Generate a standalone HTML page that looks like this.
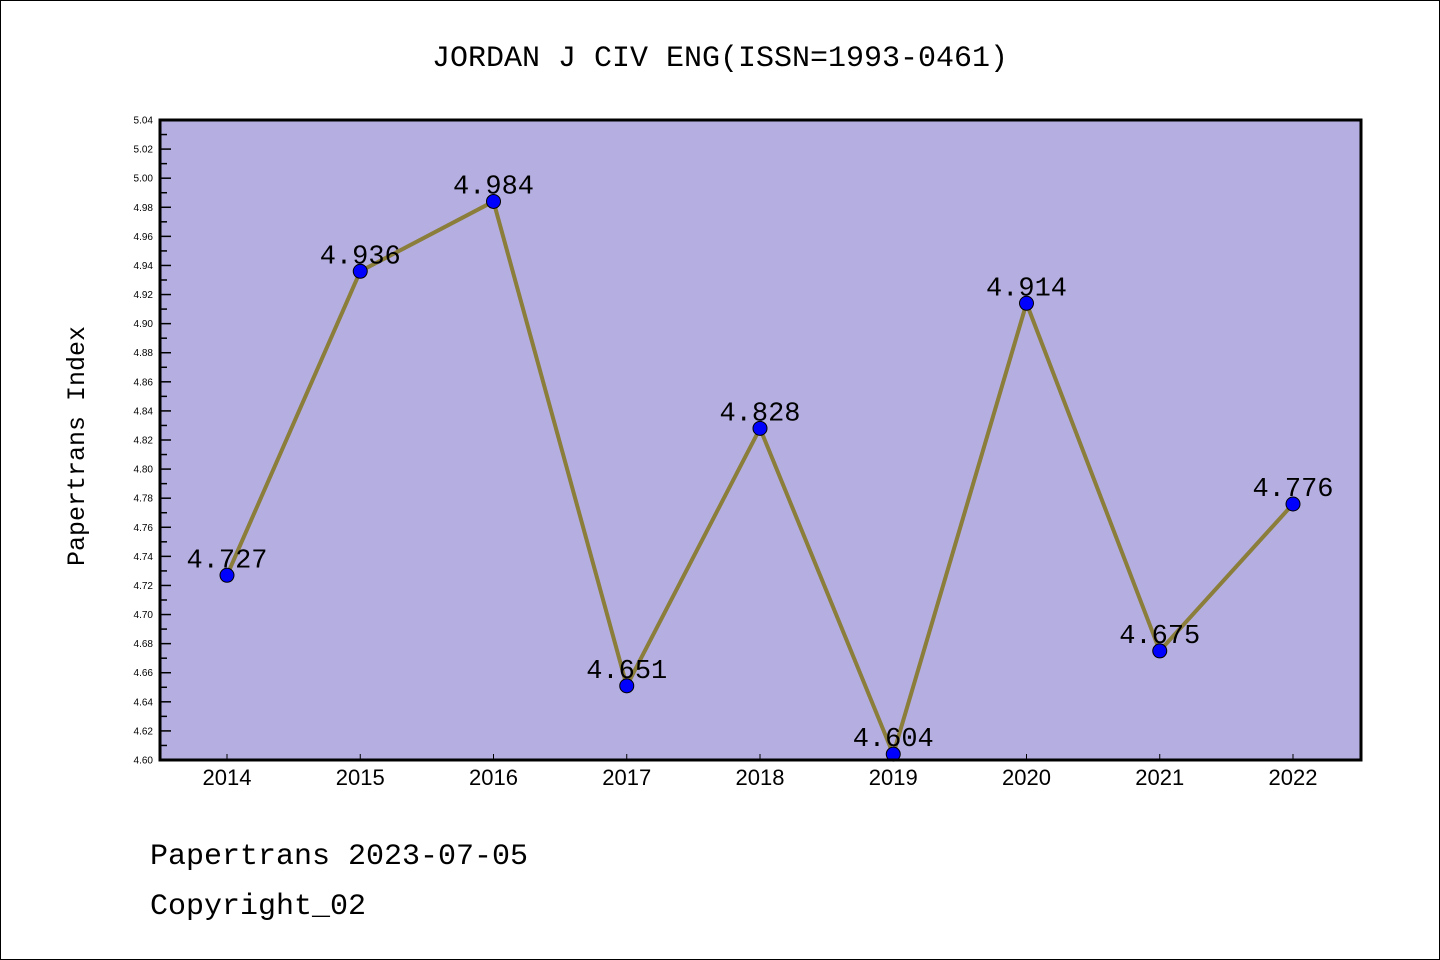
<!DOCTYPE html>
<html><head><meta charset="utf-8"><style>
html,body{margin:0;padding:0;background:#fff}
svg{display:block}
text{font-family:"Liberation Sans","DejaVu Sans",sans-serif}
.mono{font-family:"Liberation Mono","DejaVu Sans Mono",monospace}
</style></head><body>
<svg id="chart" width="1440" height="960" xmlns="http://www.w3.org/2000/svg">
<rect x="0.5" y="0.5" width="1439" height="959" fill="#fff" stroke="#000" stroke-width="1"/>
<text class="mono" x="720" y="66" text-anchor="middle" font-size="30">JORDAN J CIV ENG(ISSN=1993-0461)</text>
<rect x="160" y="120" width="1201" height="640" fill="#b5afe1"/>
<g id="yticks"></g>
<g id="xticks"></g>
<g id="series"></g>
<rect x="160" y="120" width="1201" height="640" fill="none" stroke="#000" stroke-width="3"/>
<text class="mono" transform="translate(84,446) rotate(-90)" text-anchor="middle" font-size="25">Papertrans Index</text>
<text class="mono" x="150" y="864" font-size="30">Papertrans 2023-07-05</text>
<text class="mono" x="150" y="914" font-size="30">Copyright_02</text>
</svg>
<script>
const years = ["2014","2015","2016","2017","2018","2019","2020","2021","2022"];
const values = [4.727,4.936,4.984,4.651,4.828,4.604,4.914,4.675,4.776];
const valueLabels = ["4.727","4.936","4.984","4.651","4.828","4.604","4.914","4.675","4.776"];
const yTickValues = [4.60,4.62,4.64,4.66,4.68,4.70,4.72,4.74,4.76,4.78,4.80,4.82,4.84,4.86,4.88,4.90,4.92,4.94,4.96,4.98,5.00,5.02,5.04];

const NS="http://www.w3.org/2000/svg";
const yMin=4.60,yMax=5.04,plotTop=120,plotBot=760,plotLeft=160;
const yScale=v=>plotBot-(v-yMin)/(yMax-yMin)*(plotBot-plotTop);
const x0=227,dx=133.25;
const xScale=i=>x0+i*dx;
function mk(tag,attrs,parent){const e=document.createElementNS(NS,tag);for(const k in attrs)e.setAttribute(k,attrs[k]);parent.appendChild(e);return e;}
const yg=document.getElementById('yticks');
yTickValues.forEach((v,i)=>{
  const t=mk('line',{x1:plotLeft,x2:plotLeft+11,y1:yScale(v),y2:yScale(v),stroke:'#000','stroke-width':1.5},yg);
  
  
  const lb=mk('text',{x:153,y:yScale(v)+3.5,'text-anchor':'end','font-size':10},yg);
  lb.textContent=v.toFixed(2);
  
  
  if(i<yTickValues.length-1){
    const m=mk('line',{x1:plotLeft,x2:plotLeft+7,y1:yScale(v+0.01),y2:yScale(v+0.01),stroke:'#000','stroke-width':1.5},yg);
    
    
  }
});
const xg=document.getElementById('xticks');
years.forEach((yr,i)=>{
  const t=mk('line',{x1:xScale(i),x2:xScale(i),y1:plotBot,y2:plotBot-6,stroke:'#000','stroke-width':1},xg);
  
  
  const lb=mk('text',{x:xScale(i),y:785,'text-anchor':'middle','font-size':22},xg);
  lb.textContent=yr;
  
  
});
const sg=document.getElementById('series');
const pts=values.map((v,i)=>xScale(i)+','+yScale(v)).join(' ');
const pl=mk('polyline',{points:pts,fill:'none',stroke:'#8b7d3a','stroke-width':4,'stroke-linejoin':'round'},sg);


values.forEach((v,i)=>{
  const c=mk('circle',{cx:xScale(i),cy:yScale(v),r:7,fill:'#0000ff',stroke:'#000','stroke-width':1},sg);
  
  
  const lb=mk('text',{x:xScale(i),y:yScale(v)-8,'text-anchor':'middle','font-size':27,'class':'mono'},sg);
  lb.textContent=valueLabels[i];
  
  
});
</script>
</body></html>
